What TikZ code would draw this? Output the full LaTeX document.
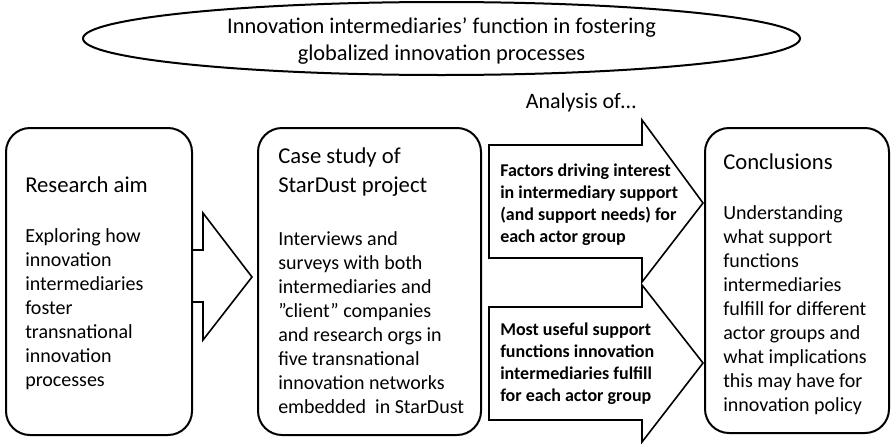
\documentclass[tikz,border=0pt]{standalone}
\usepackage{fontspec}
\setmainfont{Carlito}
\usetikzlibrary{shapes.geometric}
\usetikzlibrary{positioning}

\tikzset{
  stage/.style={draw, line width=1.5pt, rounded corners=18pt, inner sep=0pt},
  blockarrow/.style={draw, line width=1.2pt, line join=miter},
  headtext/.style={anchor=west, align=left, inner sep=0pt, font=\fontsize{17}{21.75}\selectfont},
  bodytext/.style={anchor=west, align=left, inner sep=0pt, font=\fontsize{15}{18}\selectfont},
  arrowtext/.style={anchor=west, align=left, inner sep=0pt, font=\bfseries\fontsize{13.5}{16.5}\selectfont},
}

\begin{document}
\begin{tikzpicture}[x=0.75pt,y=0.75pt,yscale=-1,xscale=1]
\useasboundingbox (0,0) rectangle (891,443);

%Ellipse
\node[draw, ellipse, line width=1.5pt, minimum width=537.75pt, minimum height=54.75pt] (topic) at (441.5,38.5) {};
%Rounded Rect
\node[stage, minimum width=139.5pt, minimum height=230.25pt] (aim) at (99,281.5) {};
%Rounded Rect
\node[stage, minimum width=167.25pt, minimum height=230.25pt] (casestudy) at (369.5,281.5) {};
%Rounded Rect
\node[stage, minimum width=138pt, minimum height=228.75pt] (conclusions) at (797,280.5) {};

%Right Arrow
\draw[blockarrow] (192,250) -- (203,250) -- (203,213) -- (252,277) -- (203,340) -- (203,302) -- (192,302);
%Right Arrow
\draw[blockarrow] (489,145) -- (642,145) -- (642,120) -- (703,203) -- (642,282) -- (642,258) -- (489,258) -- cycle;
%Right Arrow
\draw[blockarrow] (489,307) -- (642,307) -- (642,285) -- (703,363) -- (642,442) -- (642,420) -- (489,420) -- cycle;

% Text Node
\node[align=center, inner sep=0pt, font=\fontsize{16.8}{20.25}\selectfont] (topictext) at (441.5,41.5) {Innovation intermediaries’ function in fostering\\globalized innovation processes};
% Text Node
\node[inner sep=0pt, font=\fontsize{16.5}{20}\selectfont] (analysis) at (581,103) {Analysis of…};
% Text Node
\node[headtext] (aimtitle) at (25,185) {Research aim};
% Text Node
\node[bodytext] (aimbody) at (25,309.5) {Exploring how\\innovation\\intermediaries\\foster\\transnational\\innovation\\processes};
% Text Node
\node[headtext] (casetitle) at (278,172.5) {Case study of\\StarDust project};
% Text Node
\node[bodytext] (casebody) at (278,322.5) {Interviews and\\surveys with both\\intermediaries and\\”client” companies\\and research orgs in\\five transnational\\innovation networks\\embedded\ \ in StarDust};
% Text Node
\node[arrowtext] (drivers) at (500,205) {Factors driving interest\\in intermediary support\\(and support needs) for\\each actor group};
% Text Node
\node[arrowtext] (usefulfunctions) at (500,363.5) {Most useful support\\functions innovation\\intermediaries fulfill\\for each actor group};
% Text Node
\node[headtext] (conctitle) at (723,162) {Conclusions};
% Text Node
\node[bodytext] (concbody) at (723,310.5) {Understanding\\what support\\functions\\intermediaries\\fulfill for different\\actor groups and\\what implications\\this may have for\\innovation policy};

\end{tikzpicture}
\end{document}
